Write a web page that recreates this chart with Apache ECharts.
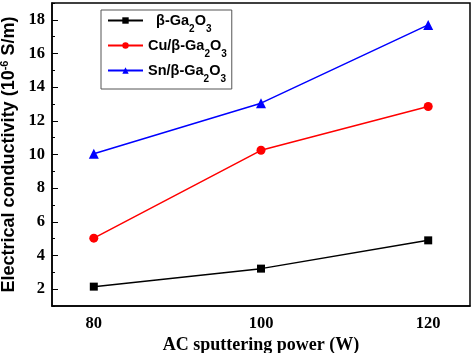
<!DOCTYPE html>
<html><head><meta charset="utf-8">
<script src="https://cdn.jsdelivr.net/npm/echarts@6/dist/echarts.min.js"></script>
<style>html,body{margin:0;padding:0;background:#fff}#c{width:472px;height:353px}</style>
</head><body><div id="c"></div>
<script>
const powers = ['80', '90', '100', '110', '120'];
const xLabels = ['80', '', '100', '', '120'];
const yTickValues = ['1','2','3','4','5','6','7','8','9','10','11','12','13','14','15','16','17','18','19'];
const gaO = [['80', 2.15], ['100', 3.22], ['120', 4.9]];
const cuGaO = [['80', 5.03], ['100', 10.25], ['120', 12.85]];
const snGaO = [['80', 10.05], ['100', 13.05], ['120', 17.7]];

const chart = echarts.init(document.getElementById('c'));
const sub = {fontFamily: 'Arial', fontWeight: 'bold', fontSize: 10, lineHeight: 17, color: '#000', verticalAlign: 'bottom', padding: [0,0,-5,0]};
const legRich = {sub: sub, t: {fontFamily: 'Arial', fontWeight: 'bold', fontSize: 14.5, lineHeight: 17, color: '#000'}};
function legName(n) {
  if (n === 'g') return '{t|  β-Ga}{sub|2}{t|O}{sub|3}';
  if (n === 'c') return '{t|Cu/β-Ga}{sub|2}{t|O}{sub|3}';
  return '{t|Sn/β-Ga}{sub|2}{t|O}{sub|3}';
}
chart.setOption({
  animation: false,
  grid: {left: 52, right: 2, top: 3, bottom: 47, show: true, borderColor: '#000', borderWidth: 1.5,
    containLabel: false, outerBoundsMode: 'none'},
  legend: {
    left: 101, top: 10, orient: 'vertical', itemGap: 4, itemWidth: 35, itemHeight: 8,
    borderColor: '#555', borderWidth: 1, padding: [3, 5, 5, 6],
    data: ['g', 'c', 's'],
    formatter: legName,
    textStyle: {rich: legRich}
  },
  xAxis: [{
    type: 'category', data: powers, boundaryGap: true,
    axisLine: {lineStyle: {color: '#000', width: 1.5}},
    axisTick: {inside: true, alignWithLabel: true, length: 3, lineStyle: {color: '#000'}},
    axisLabel: {show: false},
    name: 'AC sputtering power (W)', nameLocation: 'middle', nameGap: 30,
    nameTextStyle: {fontFamily: 'Times New Roman, Liberation Serif', fontWeight: 'bold', fontSize: 18, color: '#000'}
  }, {
    type: 'category', data: xLabels, boundaryGap: true, position: 'bottom',
    axisLine: {show: false},
    axisTick: {inside: true, alignWithLabel: true, length: 6, interval: 1, lineStyle: {color: '#000'}},
    axisLabel: {interval: 0, margin: 9, fontFamily: 'Times New Roman, Liberation Serif', fontWeight: 'bold', fontSize: 16.5, color: '#000'}
  }],
  yAxis: [{
    type: 'value', min: 1, max: 19, interval: 1,
    axisLine: {show: true, lineStyle: {color: '#000', width: 1.5}},
    axisTick: {show: true, inside: true, length: 3, lineStyle: {color: '#000'}},
    splitLine: {show: false},
    axisLabel: {
      formatter: v => (v % 2 === 0 ? String(v) : ''),
      margin: 7, fontFamily: 'Times New Roman, Liberation Serif', fontWeight: 'bold', fontSize: 16.5, color: '#000'
    },
    name: '{t|Electrical conductivity (10}{sup|-6}{t| S/m)}', nameLocation: 'middle', nameGap: 25,
    nameTextStyle: {rich: {
      t: {fontFamily: 'Arial', fontWeight: 'bold', fontSize: 18, color: '#000'},
      sup: {fontFamily: 'Arial', fontWeight: 'bold', fontSize: 11, color: '#000', verticalAlign: 'top', padding: [0,0,8,0]}
    }}
  }, {
    type: 'category', data: yTickValues, boundaryGap: false, position: 'left',
    axisLine: {show: false},
    axisTick: {show: true, inside: true, length: 6, interval: (i) => i % 2 === 1, lineStyle: {color: '#000'}},
    axisLabel: {show: false}, splitLine: {show: false}
  }],
  series: [
    {name: 'g', type: 'line', data: gaO, symbol: 'rect', symbolSize: 8,
      itemStyle: {color: '#000'}, lineStyle: {color: '#000', width: 1.5}},
    {name: 'c', type: 'line', data: cuGaO, symbol: 'circle', symbolSize: 9,
      itemStyle: {color: '#ff0000'}, lineStyle: {color: '#ff0000', width: 1.5}},
    {name: 's', type: 'line', data: snGaO, symbol: 'triangle', symbolSize: 10,
      itemStyle: {color: '#0000ff'}, lineStyle: {color: '#0000ff', width: 1.5}}
  ]
});
</script></body></html>
